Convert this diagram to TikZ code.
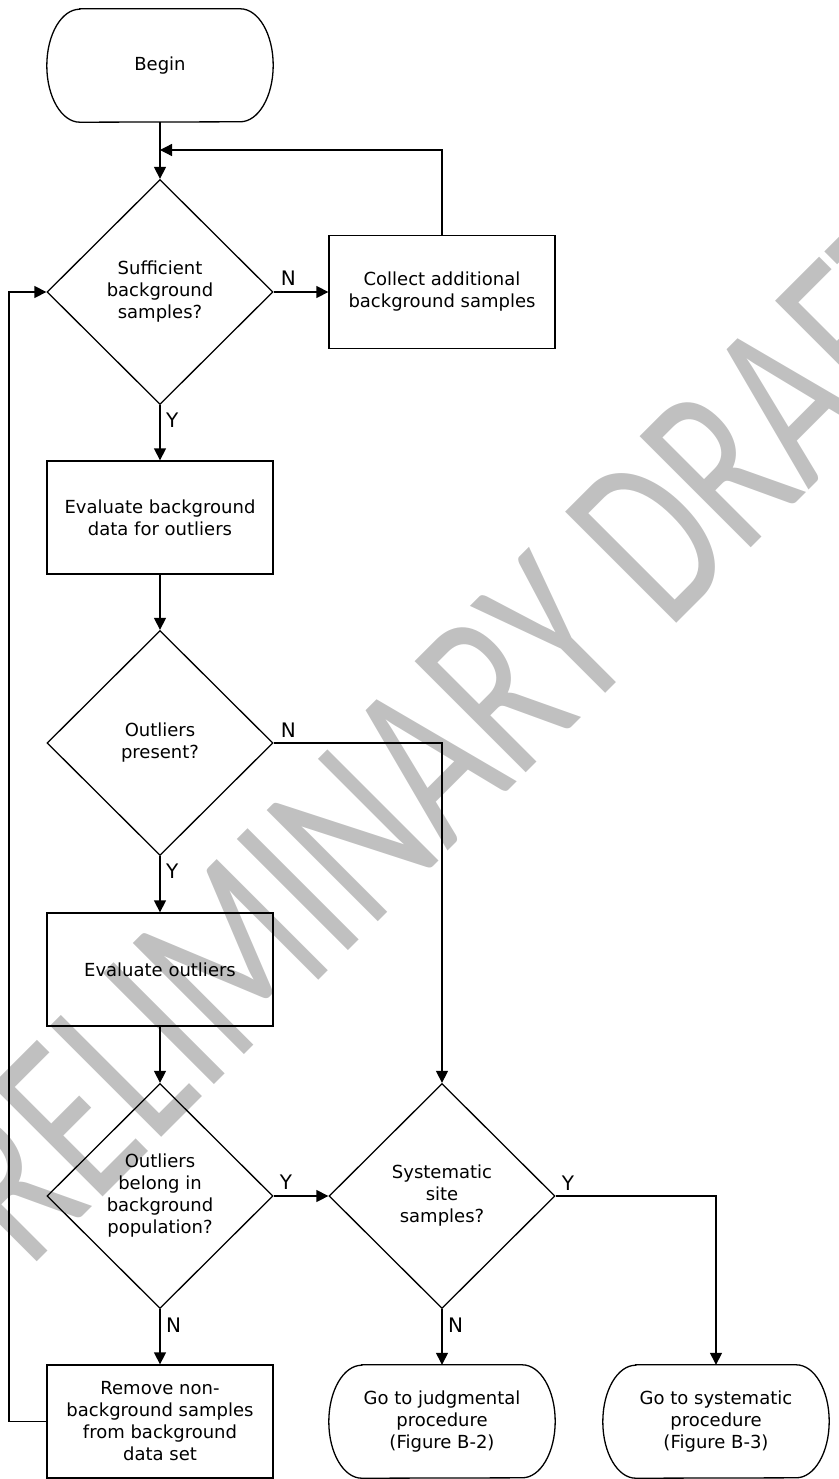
\documentclass[tikz,border=0pt]{standalone}
\usepackage{fontspec}
\setmainfont{DejaVu Sans}
\newfontfamily\wmfont{Carlito}
\usetikzlibrary{shapes.geometric, arrows.meta}
\definecolor{wmgray}{RGB}{192,192,192}

\tikzset{
  outline/.style={draw=black, line width=1.3pt},
  process/.style={outline, rectangle, minimum width=226pt, minimum height=113pt, inner sep=0pt},
  decision/.style={outline, diamond, minimum width=226pt, minimum height=225pt, inner sep=0pt},
  terminal/.style={rectangle, minimum width=226pt, minimum height=113pt, inner sep=0pt},
  flow/.style={line width=1.3pt, -{Triangle[length=12pt, width=12pt]}},
  link/.style={line width=1.3pt},
  answer/.style={font=\fontsize{20}{24}\selectfont, inner sep=0pt},
}

% outline of a start/stop node: straight top and bottom, half-ellipse ends
\newcommand\termoutline[1]{%
  \draw[outline] ([xshift=33pt]#1.north west) -- ([xshift=-33pt]#1.north east)
    arc[start angle=90, end angle=-90, x radius=33pt, y radius=56.5pt]
    -- ([xshift=33pt]#1.south west)
    arc[start angle=270, end angle=90, x radius=33pt, y radius=56.5pt] -- cycle;}

\begin{document}
\begin{tikzpicture}[x=1pt, y=1pt,
  every node/.append style={font=\fontsize{18}{22}\selectfont, align=center}]
\useasboundingbox (0,0) rectangle (838,-1479);

% watermark behind everything
\begin{scope}
  \clip (0,0) rectangle (838,-1479);
  \node[text=wmgray, rotate=45, inner sep=0pt, font=\wmfont\fontsize{245}{245}\selectfont]
    (wm) at (424,-764) {\scalebox{0.7}[1]{PRELIMINARY DRAFT}};
\end{scope}

% nodes
\node[terminal] (begin) at (160,-65.5) {Begin};
\termoutline{begin}
\node[decision] (d1) at (160,-292) {Sufficient\\background\\samples?};
\node[process] (collect) at (442,-292) {Collect additional\\background samples};
\node[process] (evalbg) at (160,-517.5) {Evaluate background\\data for outliers};
\node[decision] (d2) at (160,-743) {Outliers\\present?};
\node[process] (evalout) at (160,-969.5) {Evaluate outliers};
\node[decision] (d3) at (160,-1196) {Outliers\\belong in\\background\\population?};
\node[process] (remove) at (160,-1421.5) {Remove non-\\background samples\\from background\\data set};
\node[decision] (d4) at (442,-1196) {Systematic\\site\\samples?};
\node[terminal] (judg) at (442,-1421.5) {Go to judgmental\\procedure\\(Figure B-2)};
\termoutline{judg}
\node[terminal] (syst) at (716,-1421.5) {Go to systematic\\procedure\\(Figure B-3)};
\termoutline{syst}

% helper points for loop-backs
\coordinate (merge) at (160,-150);
\coordinate (ret) at (9,-1421.5);

% connectors
\draw[flow] (begin.south) -- (d1.north);
\draw[flow] (collect.north) |- (merge);
\draw[flow] (d1.east) -- (collect.west);
\draw[flow] (d1.south) -- (evalbg.north);
\draw[flow] (evalbg.south) -- (d2.north);
\draw[flow] (d2.east) -| (d4.north);
\draw[flow] (d2.south) -- (evalout.north);
\draw[flow] (evalout.south) -- (d3.north);
\draw[flow] (d3.east) -- (d4.west);
\draw[flow] (d3.south) -- (remove.north);
\draw[flow] (remove.west) -- (ret) |- (d1.west);
\draw[flow] (d4.south) -- (judg.north);
\draw[flow] (d4.east) -| (syst.north);

% branch labels
\node[answer, anchor=south west] (n1) at ([xshift=7pt,yshift=6pt]d1.east) {N};
\node[answer, anchor=north west] (y1) at ([xshift=6pt,yshift=-8pt]d1.south) {Y};
\node[answer, anchor=south west] (n2) at ([xshift=7pt,yshift=5pt]d2.east) {N};
\node[answer, anchor=north west] (y2) at ([xshift=6pt,yshift=-8pt]d2.south) {Y};
\node[answer, anchor=south west] (y3) at ([xshift=6pt,yshift=6pt]d3.east) {Y};
\node[answer, anchor=north west] (n3) at ([xshift=6pt,yshift=-9pt]d3.south) {N};
\node[answer, anchor=south west] (y4) at ([xshift=6pt,yshift=5pt]d4.east) {Y};
\node[answer, anchor=north west] (n4) at ([xshift=6pt,yshift=-9pt]d4.south) {N};
\end{tikzpicture}
\end{document}
